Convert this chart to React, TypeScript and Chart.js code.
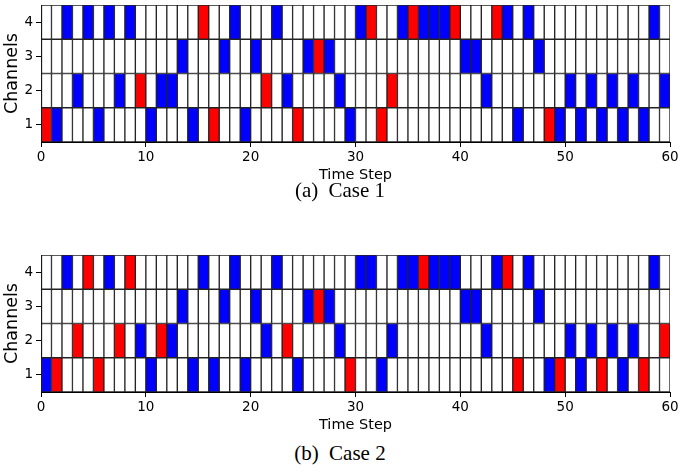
import React, { useEffect, useRef } from "react";
import { Chart, registerables } from "chart.js";

Chart.register(...registerables);

const timeSteps = 60;
const channelLabels = ["4", "3", "2", "1"];
const xTickStep = 10;

// Case 1 (time-step indices of coloured cells per channel)
const case1Ch4Blue = [2, 4, 6, 8, 18, 22, 30, 34, 36, 37, 38, 44, 46, 58];
const case1Ch4Red = [15, 31, 35, 39, 43];
const case1Ch3Blue = [13, 17, 20, 25, 27, 40, 41, 47];
const case1Ch3Red = [26];
const case1Ch2Blue = [3, 7, 11, 12, 23, 28, 42, 50, 52, 54, 56, 59];
const case1Ch2Red = [9, 21, 33];
const case1Ch1Blue = [1, 5, 10, 14, 19, 29, 45, 49, 51, 53, 55, 57];
const case1Ch1Red = [0, 16, 24, 32, 48];

// Case 2
const case2Ch4Blue = [2, 6, 15, 18, 22, 30, 31, 34, 35, 37, 38, 39, 43, 46, 58];
const case2Ch4Red = [4, 8, 36, 44];
const case2Ch3Blue = [13, 17, 20, 25, 27, 40, 41, 47];
const case2Ch3Red = [26];
const case2Ch2Blue = [9, 12, 21, 28, 33, 42, 50, 52, 54, 56];
const case2Ch2Red = [3, 7, 11, 23, 59];
const case2Ch1Blue = [0, 10, 14, 16, 19, 24, 32, 48, 51, 55];
const case2Ch1Red = [1, 5, 29, 45, 49, 53, 57];

const BLUE = "#0000ff";
const RED = "#ff0000";
const WHITE = "#ffffff";

type RowSpec = { blue: number[]; red: number[] };

const case1Rows: RowSpec[] = [
  { blue: case1Ch4Blue, red: case1Ch4Red },
  { blue: case1Ch3Blue, red: case1Ch3Red },
  { blue: case1Ch2Blue, red: case1Ch2Red },
  { blue: case1Ch1Blue, red: case1Ch1Red },
];
const case2Rows: RowSpec[] = [
  { blue: case2Ch4Blue, red: case2Ch4Red },
  { blue: case2Ch3Blue, red: case2Ch3Red },
  { blue: case2Ch2Blue, red: case2Ch2Red },
  { blue: case2Ch1Blue, red: case2Ch1Red },
];

const FONT = "'DejaVu Sans', sans-serif";

function GridChart({ rows, top }: { rows: RowSpec[]; top: number }) {
  const ref = useRef<HTMLCanvasElement | null>(null);
  useEffect(() => {
    if (!ref.current) return;
    const datasets = [];
    for (let t = 0; t < timeSteps; t++) {
      datasets.push({
        label: "t" + t,
        data: rows.map(() => [t, t + 1]),
        backgroundColor: rows.map((r) =>
          r.red.includes(t) ? RED : r.blue.includes(t) ? BLUE : WHITE
        ),
        borderColor: "#222222",
        borderWidth: 1,
        borderSkipped: false,
        grouped: false,
        barPercentage: 1,
        categoryPercentage: 1,
      });
    }
    const chart = new Chart(ref.current, {
      type: "bar",
      data: { labels: channelLabels, datasets: datasets as any },
      options: {
        indexAxis: "y",
        animation: false,
        responsive: false,
        devicePixelRatio: 1,
        layout: { padding: { top: 5, right: 10, bottom: 0, left: 0 } },
        plugins: { legend: { display: false }, tooltip: { enabled: false } },
        scales: {
          x: {
            type: "linear",
            min: 0,
            max: timeSteps,
            ticks: {
              stepSize: xTickStep,
              color: "#000",
              font: { family: FONT, size: 13.5 },
              padding: 2,
              maxRotation: 0,
            },
            grid: { drawOnChartArea: false, tickLength: 5, color: "#000" },
            border: { color: "#000", width: 1 },
            title: {
              display: true,
              text: "Time Step",
              color: "#000",
              font: { family: FONT, size: 14.5 },
              padding: { top: 0, bottom: 1 },
            },
            afterFit: (s: any) => {
              s.height = 43;
              s.paddingLeft = 0;
              s.paddingRight = 0;
            },
          },
          y: {
            type: "category",
            offset: true,
            ticks: { color: "#000", font: { family: FONT, size: 13.5 }, padding: 3 },
            grid: { offset: false, drawOnChartArea: false, tickLength: 5, color: "#000" },
            border: { color: "#000", width: 1 },
            title: {
              display: true,
              text: "Channels",
              color: "#000",
              font: { family: FONT, size: 17.5 },
              padding: { top: 2, bottom: 0 },
            },
            afterFit: (s: any) => {
              s.width = 41;
              s.paddingTop = 0;
              s.paddingBottom = 0;
            },
          },
        },
      } as any,
    });
    return () => chart.destroy();
  }, [rows]);
  return (
    <div style={{ position: "absolute", left: 0, top, width: 680, height: 185 }}>
      <canvas ref={ref} width={680} height={185} style={{ width: 680, height: 185 }} />
    </div>
  );
}

function Caption({ label, text, top }: { label: string; text: string; top: number }) {
  return (
    <div
      style={{
        position: "absolute",
        left: 0,
        top,
        width: 680,
        textAlign: "center",
        fontFamily: "'Liberation Serif', serif",
        fontSize: 21,
        lineHeight: "24px",
        color: "#000",
      }}
    >
      <span style={{ wordSpacing: 5 }}>{label + " "}</span>
      {text}
    </div>
  );
}

export default function App() {
  return (
    <div style={{ position: "absolute", left: 0, top: 0, width: 680, height: 474, background: "#fff" }}>
      <GridChart rows={case1Rows} top={0} />
      <Caption label="(a)" text="Case 1" top={178} />
      <GridChart rows={case2Rows} top={250} />
      <Caption label="(b)" text="Case 2" top={441} />
    </div>
  );
}
